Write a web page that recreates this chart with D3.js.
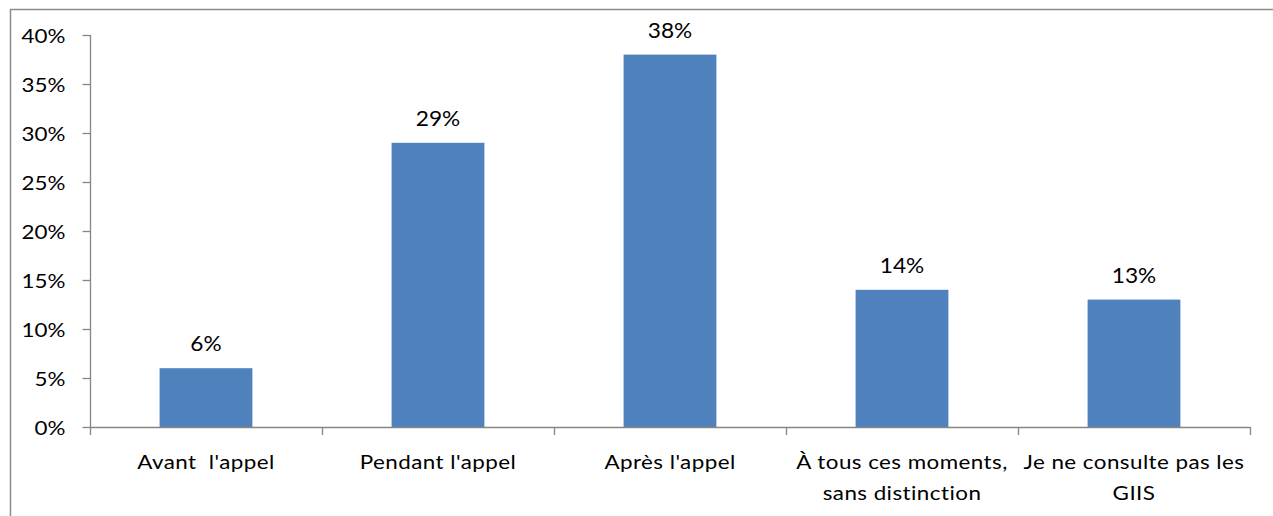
<!DOCTYPE html>
<html>
<head>
<meta charset="utf-8">
<script src="https://cdn.jsdelivr.net/npm/d3@7"></script>
<style>
  html, body { margin: 0; padding: 0; background: #fff; }
  svg { display: block; }
  text { font-family: Lato, "Open Sans", sans-serif; fill: #000; }
</style>
</head>
<body>
<svg id="chart" width="1273" height="516"></svg>
<script>
// Moment de consultation des GIIS (part des répondants)
const categories = [
  ["Avant\u00a0\u00a0l'appel"],
  ["Pendant l'appel"],
  ["Après l'appel"],
  ["À tous ces moments,", "sans distinction"],
  ["Je ne consulte pas les", "GIIS"]
];
const values = [6, 29, 38, 14, 13];
const yTicks = [0, 5, 10, 15, 20, 25, 30, 35, 40];

const svg = d3.select("#chart");
const W = 1273, H = 516;
const stretch = 1.12; // slightly widened lettering

// outer frame (top and left edges visible)
svg.append("rect")
  .attr("x", 10.5).attr("y", 9.5)
  .attr("width", W).attr("height", H)
  .attr("fill", "none")
  .attr("stroke", "#8c8c8c")
  .attr("stroke-width", 1.5);

const plotLeft = 90, plotRight = 1250, plotTop = 35, plotBottom = 427;

const x = d3.scaleBand()
  .domain(d3.range(categories.length))
  .range([plotLeft, plotRight])
  .paddingInner(0.6)
  .paddingOuter(0.3);

const y = d3.scaleLinear().domain([0, 40]).range([plotBottom, plotTop]);

// bars
svg.append("g").selectAll("rect")
  .data(values)
  .join("rect")
  .attr("x", (d, i) => x(i))
  .attr("y", d => y(d))
  .attr("width", x.bandwidth())
  .attr("height", d => y(0) - y(d))
  .attr("fill", "#4f81bd");

// value labels
svg.append("g").selectAll("text")
  .data(values)
  .join("text")
  .attr("transform", (d, i) =>
    `translate(${x(i) + x.bandwidth() / 2},${y(d) - 17}) scale(1.08,1)`)
  .attr("text-anchor", "middle")
  .attr("font-size", 21)
  .text(d => d + "%");

// y axis
const yAxis = d3.axisLeft(y)
  .tickValues(yTicks)
  .tickFormat(d => d + "%")
  .tickSize(8)
  .tickPadding(17);
const gy = svg.append("g")
  .attr("transform", `translate(${plotLeft + 0.5},0)`)
  .call(yAxis);
gy.select(".domain").attr("stroke", "#868686").attr("stroke-width", 1.3)
  .attr("d", `M0,${plotTop}V${plotBottom}`);
gy.selectAll(".tick line").attr("stroke", "#868686").attr("stroke-width", 1.3);
gy.selectAll(".tick text")
  .attr("x", 0)
  .attr("dy", "0.36em")
  .attr("transform", `translate(-25,0) scale(${stretch},1)`)
  .attr("font-size", 20)
  .attr("font-family", "Lato, 'Open Sans', sans-serif")
  .attr("fill", "#000");

// x axis: boundary ticks between categories
const bounds = d3.range(categories.length + 1).map(i => plotLeft + i * x.step());
const gx = svg.append("g");
gx.append("line")
  .attr("x1", plotLeft).attr("x2", plotRight)
  .attr("y1", plotBottom + 0.5).attr("y2", plotBottom + 0.5)
  .attr("stroke", "#868686").attr("stroke-width", 1.3);
gx.selectAll("line.tk")
  .data(bounds)
  .join("line")
  .attr("class", "tk")
  .attr("x1", d => d + 0.5).attr("x2", d => d + 0.5)
  .attr("y1", plotBottom).attr("y2", plotBottom + 8)
  .attr("stroke", "#868686").attr("stroke-width", 1.3);

// category labels
const cl = svg.append("g").selectAll("text")
  .data(categories)
  .join("text")
  .attr("transform", (d, i) =>
    `translate(${x(i) + x.bandwidth() / 2},469) scale(${stretch},1)`)
  .attr("text-anchor", "middle")
  .attr("letter-spacing", 0.4)
  .attr("font-size", 20);
cl.selectAll("tspan")
  .data(d => d)
  .join("tspan")
  .attr("x", 0)
  .attr("dy", (d, i) => i === 0 ? 0 : 31)
  .text(d => d);
</script>
</body>
</html>
